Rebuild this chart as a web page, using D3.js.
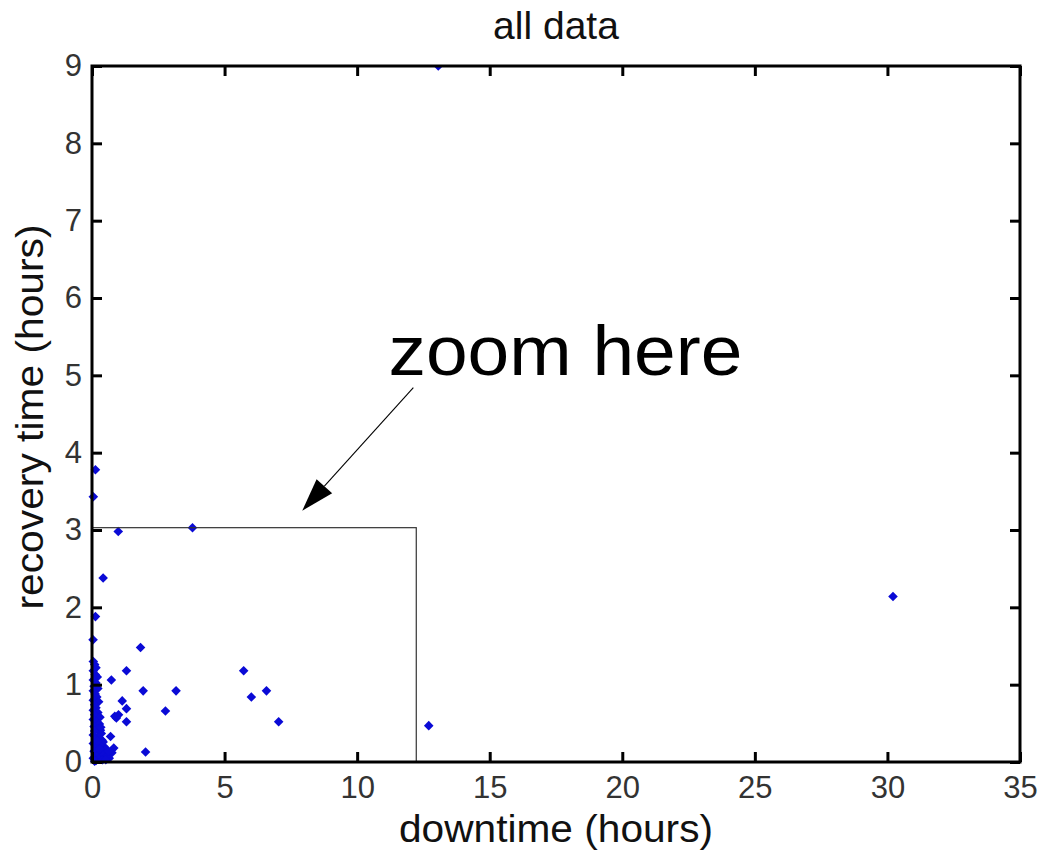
<!DOCTYPE html>
<html>
<head>
<meta charset="utf-8">
<script src="https://cdn.jsdelivr.net/npm/d3@7"></script>
<style>
  html, body { margin: 0; padding: 0; background: #fff; }
  svg { display: block; }
  text { font-family: "Liberation Sans", Arial, sans-serif; }
</style>
</head>
<body>
<svg id="chart" width="1043" height="857"></svg>
<script>
// ---- data ----
const titleText = "all data";
const xLabelText = "downtime (hours)";
const yLabelText = "recovery time (hours)";
const xTicks = [0, 5, 10, 15, 20, 25, 30, 35];
const yTicks = [0, 1, 2, 3, 4, 5, 6, 7, 8, 9];
const xDomain = [0, 35];
const yDomain = [0, 9];

const downtime = [
  13.06, 30.21, 12.70, 3.79, 0.99, 0.13, 0.05, 0.42, 0.13, 0.04,
  1.83, 1.30, 5.72, 0.73, 1.93, 3.17, 6.58, 6.01, 1.14, 1.30,
  2.77, 0.86, 1.00, 0.92, 1.30, 7.04, 2.02, 0.70, 0.82, 0.45,
  0.60, 0.75, 0.32, 0.50, 0.38,
  0.05, 0.10, 0.15, 0.05, 0.12, 0.20, 0.05, 0.15, 0.08, 0.22,
  0.05, 0.12, 0.18, 0.05, 0.25, 0.10, 0.15, 0.05, 0.22, 0.10,
  0.30, 0.05, 0.18, 0.28, 0.08, 0.20, 0.10, 0.35, 0.05, 0.25,
  0.15, 0.42, 0.05, 0.30, 0.18, 0.55, 0.08, 0.38, 0.22, 0.48,
  0.05, 0.30, 0.15, 0.65, 0.10,
  0.25, 0.35, 0.45, 0.28, 0.40, 0.58, 0.20, 0.33, 0.62, 0.52
];
const recovery = [
  9.00, 2.14, 0.47, 3.03, 2.98, 3.78, 3.43, 2.38, 1.88, 1.58,
  1.48, 1.18, 1.18, 1.06, 0.92, 0.92, 0.92, 0.84, 0.79, 0.69,
  0.66, 0.59, 0.61, 0.57, 0.52, 0.52, 0.13, 0.33, 0.18, 0.20,
  0.10, 0.12, 0.41, 0.15, 0.28,
  1.30, 1.26, 1.22, 1.18, 1.13, 1.10, 1.06, 1.02, 0.98, 0.95,
  0.92, 0.88, 0.84, 0.80, 0.78, 0.74, 0.70, 0.67, 0.64, 0.61,
  0.58, 0.55, 0.52, 0.49, 0.46, 0.43, 0.40, 0.37, 0.35, 0.32,
  0.29, 0.26, 0.24, 0.22, 0.19, 0.16, 0.14, 0.12, 0.09, 0.07,
  0.05, 0.04, 0.02, 0.05, 0.01,
  0.10, 0.06, 0.10, 0.17, 0.03, 0.08, 0.27, 0.45, 0.14, 0.03
];

// zoom box annotation (data units)
const zoomBox = { x0: 0, x1: 12.23, y0: 0, y1: 3.03 };
const annotText = "zoom here";
const annotTextPos = [11.18, 5.0];
const arrowFrom = [12.12, 4.84];
const arrowTo = [7.93, 3.25];

// ---- layout ----
const svg = d3.select("#chart");
const L = 92, R = 1020, T = 66, B = 762;
const x = d3.scaleLinear().domain(xDomain).range([L, R]);
const y = d3.scaleLinear().domain(yDomain).range([B, T]);

svg.append("defs").append("clipPath").attr("id", "clip")
  .append("rect").attr("x", L - 12).attr("y", T).attr("width", R - L + 12).attr("height", B - T + 12);

// points (square diamonds)
const pts = downtime.map((d, i) => ({ x: d, y: recovery[i] }));
svg.append("g").attr("clip-path", "url(#clip)")
  .selectAll("path").data(pts).join("path")
  .attr("d", d3.symbol().type(d3.symbolSquare).size(46))
  .attr("transform", d => `translate(${x(d.x)},${y(d.y)}) rotate(45)`)
  .attr("fill", "#0a0ad6");

// zoom rectangle
svg.append("rect")
  .attr("x", x(zoomBox.x0)).attr("y", y(zoomBox.y1))
  .attr("width", x(zoomBox.x1) - x(zoomBox.x0))
  .attr("height", y(zoomBox.y0) - y(zoomBox.y1))
  .attr("fill", "none").attr("stroke", "#333").attr("stroke-width", 1.2);

// arrow
const ax0 = x(arrowFrom[0]), ay0 = y(arrowFrom[1]);
const ax1 = x(arrowTo[0]), ay1 = y(arrowTo[1]);
const ang = Math.atan2(ay1 - ay0, ax1 - ax0);
const headLen = 33, headHalf = 10.5;
const bx = ax1 - headLen * Math.cos(ang), by = ay1 - headLen * Math.sin(ang);
svg.append("line")
  .attr("x1", ax0).attr("y1", ay0).attr("x2", bx).attr("y2", by)
  .attr("stroke", "#000").attr("stroke-width", 1.1);
svg.append("path")
  .attr("d", `M${ax1},${ay1}L${bx + headHalf * Math.sin(ang)},${by - headHalf * Math.cos(ang)}L${bx - headHalf * Math.sin(ang)},${by + headHalf * Math.cos(ang)}Z`)
  .attr("fill", "#000");

svg.append("text")
  .attr("x", x(annotTextPos[0])).attr("y", y(annotTextPos[1]))
  .attr("font-family", "'DejaVu Sans', sans-serif")
  .attr("font-size", 70)
  .attr("textLength", 354).attr("lengthAdjust", "spacingAndGlyphs")
  .attr("fill", "#000")
  .text(annotText);

// axes
const tickFont = 31;
const gx = svg.append("g").attr("transform", `translate(0,${B})`)
  .call(d3.axisBottom(x).tickValues(xTicks).tickSize(-10).tickPadding(14).tickFormat(d3.format("d")));
const gxTop = svg.append("g").attr("transform", `translate(0,${T})`)
  .call(d3.axisTop(x).tickValues(xTicks).tickSize(-10).tickFormat(""));
const gy = svg.append("g").attr("transform", `translate(${L},0)`)
  .call(d3.axisLeft(y).tickValues(yTicks).tickSize(-10).tickPadding(10).tickFormat(d3.format("d")));
const gyR = svg.append("g").attr("transform", `translate(${R},0)`)
  .call(d3.axisRight(y).tickValues(yTicks).tickSize(-10).tickFormat(""));

[gx, gxTop, gy, gyR].forEach(g => {
  g.select(".domain").remove();
  g.selectAll(".tick line").attr("stroke", "#000").attr("stroke-width", 3);
  g.selectAll(".tick text").attr("font-size", tickFont).attr("fill", "#333")
    .attr("font-family", "'Liberation Sans', Arial, sans-serif");
});

// box
svg.append("rect")
  .attr("x", L).attr("y", T).attr("width", R - L).attr("height", B - T)
  .attr("fill", "none").attr("stroke", "#000").attr("stroke-width", 3);

// labels
svg.append("text").attr("x", (L + R) / 2).attr("y", 39)
  .attr("text-anchor", "middle").attr("font-size", 39).attr("fill", "#111")
  .text(titleText);
svg.append("text").attr("x", (L + R) / 2).attr("y", 842)
  .attr("text-anchor", "middle").attr("font-size", 39).attr("fill", "#111")
  .attr("textLength", 314).attr("lengthAdjust", "spacingAndGlyphs")
  .text(xLabelText);
svg.append("text")
  .attr("transform", `translate(43,${(T + B) / 2 + 3}) rotate(-90)`)
  .attr("text-anchor", "middle").attr("font-size", 39).attr("fill", "#111")
  .attr("textLength", 385).attr("lengthAdjust", "spacingAndGlyphs")
  .text(yLabelText);
</script>
</body>
</html>
